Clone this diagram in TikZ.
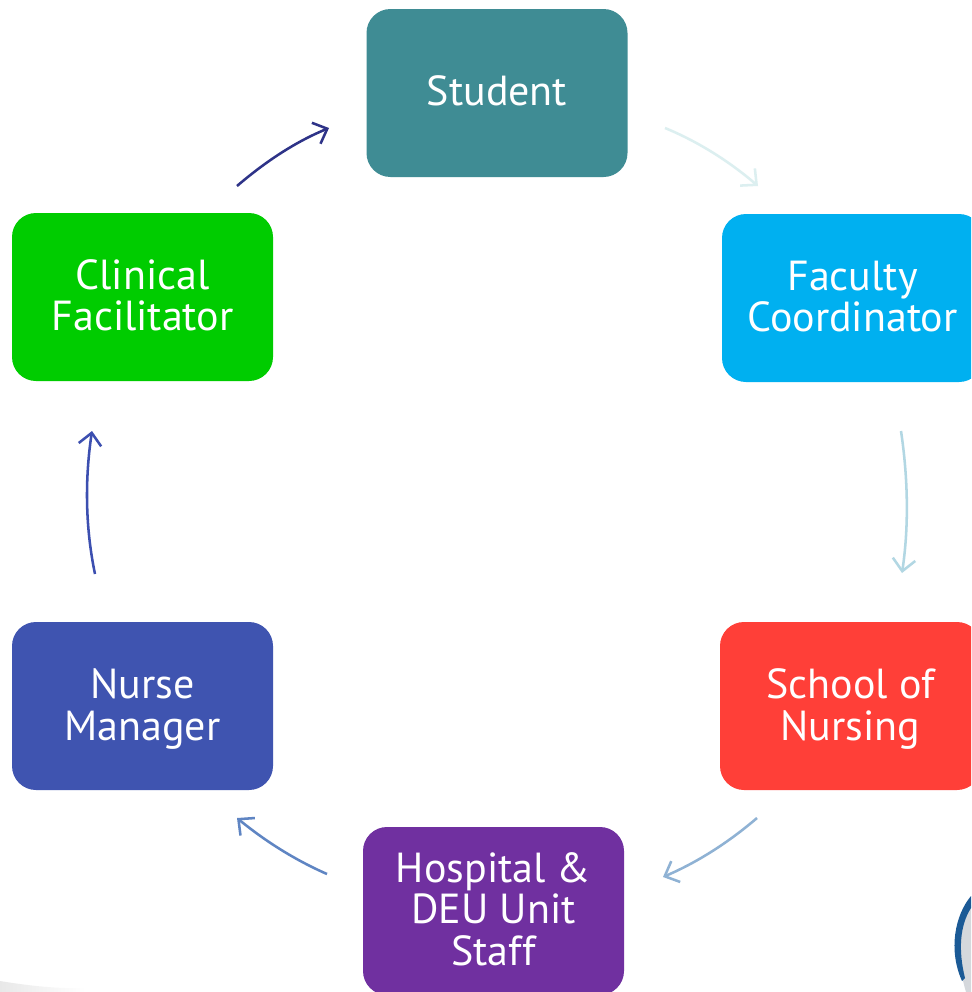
\documentclass[tikz,border=0pt]{standalone}
\usepackage{fontspec}
\setmainfont{PT Sans}
\usetikzlibrary{arrows.meta}
\definecolor{cStudent}{HTML}{3F8C94}
\definecolor{cFaculty}{HTML}{00B0F0}
\definecolor{cSchool}{HTML}{FF3F38}
\definecolor{cHospital}{HTML}{7030A0}
\definecolor{cNurse}{HTML}{3F54B0}
\definecolor{cClinical}{HTML}{00CC00}
\definecolor{aOne}{HTML}{DCEFF0}
\definecolor{aTwo}{HTML}{B2D7E3}
\definecolor{aThree}{HTML}{8FB2D4}
\definecolor{aFour}{HTML}{5F85C3}
\definecolor{aFive}{HTML}{3C4FB0}
\definecolor{aSix}{HTML}{2E3388}
\definecolor{logoBlue}{HTML}{1B5A96}
\definecolor{logoGrey}{HTML}{D5D8DC}
\newcommand{\liftup}{\rule[-3pt]{0pt}{0pt}}
\newcommand{\pushdown}{\rule{0pt}{27pt}}
\tikzset{
  pxunit/.style={x=0.75pt,y=-0.75pt},
  stagebox/.style={rounded corners=18pt,minimum width=195.75pt,minimum height=126pt,inner sep=0pt,
    text=white,align=center,font=\fontsize{31.5pt}{31pt}\selectfont},
  flow/.style={line width=1.9pt,-{Straight Barb[length=9pt,width=17pt,line width=1.9pt]}},
}
\begin{document}
\begin{tikzpicture}[pxunit]
\clip (0,0) rectangle (971,992);
\fill[white] (0,0) rectangle (971,992);
% background fragments
\shade[left color=black!9,right color=white] (0,981) .. controls (30,986) and (60,989) .. (85,988) -- (85,992) -- (0,992) -- cycle;
\fill[logoGrey] (971,905) .. controls (958,925) and (955,955) .. (966,992) -- (971,992) -- cycle;
\fill[logoBlue] (971,896) .. controls (955,915) and (948,950) .. (962,981) -- (965,978) .. controls (958,950) and (960,925) .. (971,908) -- cycle;
% stages
\node[stagebox,fill=cStudent]  (student)  at (497,93)    {Student\liftup};
\node[stagebox,fill=cFaculty]  (faculty)  at (852.5,298) {Faculty\\Coordinator\liftup};
\node[stagebox,fill=cSchool]   (school)   at (850.5,706) {\pushdown School of\\Nursing};
\node[stagebox,fill=cHospital] (hospital) at (493.5,911) {Hospital \&\\DEU Unit\\Staff\liftup};
\node[stagebox,fill=cNurse]    (nurse)    at (142.5,706) {\pushdown Nurse\\Manager};
\node[stagebox,fill=cClinical] (clinical) at (142.5,297) {Clinical\\Facilitator\liftup};
% connector ends
\coordinate (a1s) at (665,128); \coordinate (a1e) at (758,186);
\coordinate (a2s) at (901,431); \coordinate (a2e) at (902,573);
\coordinate (a3s) at (757,818); \coordinate (a3e) at (663,877);
\coordinate (a4s) at (327,874); \coordinate (a4e) at (237,818);
\coordinate (a5s) at (95,574);  \coordinate (a5e) at (92,431);
\coordinate (a6s) at (237,186); \coordinate (a6e) at (329,128);
% connectors
\draw[flow,aOne]   (a1s) .. controls (699,142) and (730,162) .. (a1e);
\draw[flow,aTwo]   (a2s) .. controls (908,478) and (909,526) .. (a2e);
\draw[flow,aThree] (a3s) .. controls (729,842) and (698,862) .. (a3e);
\draw[flow,aFour]  (a4s) .. controls (295,860) and (265,841) .. (a4e);
\draw[flow,aFive]  (a5s) .. controls (85,526) and (85,478) .. (a5e);
\draw[flow,aSix]   (a6s) .. controls (265,162) and (295,142) .. (a6e);
\end{tikzpicture}
\end{document}
